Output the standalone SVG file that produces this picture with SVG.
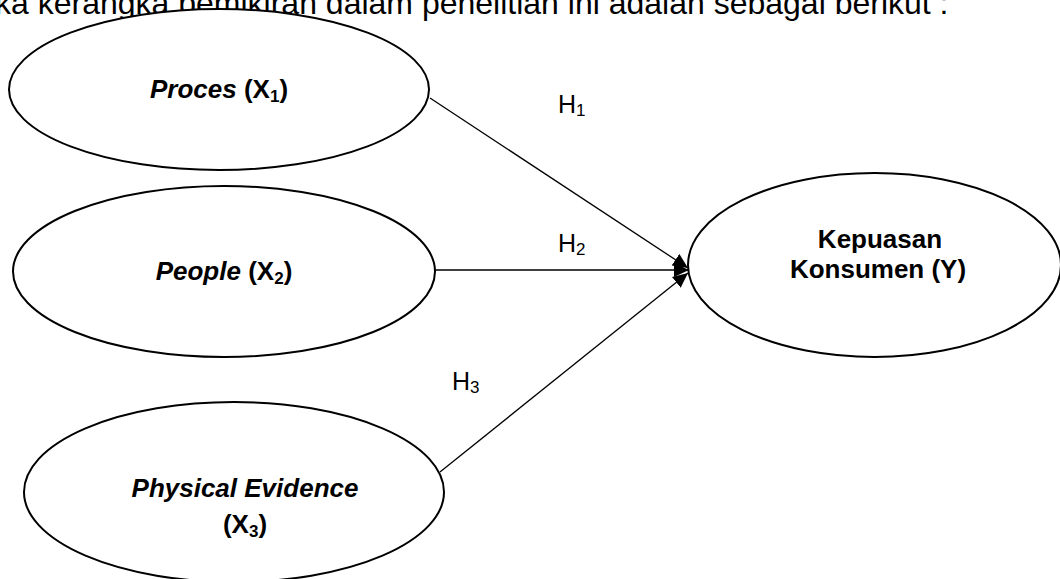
<svg xmlns="http://www.w3.org/2000/svg" width="1060" height="579" viewBox="0 0 1060 579">
<style>
.node ellipse{fill:#fff;stroke:#000;stroke-width:2}
.lbl{font-family:"Liberation Sans",Arial,sans-serif;font-size:26px;font-weight:bold;fill:#000;text-anchor:middle}
.it{font-style:italic}
.sub{font-size:17px}
.h{font-family:"Liberation Sans",Arial,sans-serif;font-size:25px;fill:#000}
.hs{font-size:17px}
.top{font-family:"Liberation Sans",Arial,sans-serif;font-size:32px;fill:#000}
#connectors line{stroke:#000;stroke-width:1.3;marker-end:url(#arr)}
</style>
<defs>
<marker id="arr" markerUnits="userSpaceOnUse" markerWidth="16" markerHeight="16" refX="15" refY="7" orient="auto">
<path d="M0,0 L15,7 L0,14 z" fill="#000"/>
</marker>
</defs>
<rect width="1060" height="579" fill="#fff"/>
<text class="top" x="-5" y="14">ka kerangka pemikiran dalam penelitian ini adalah sebagai berikut :</text>
<g id="connectors">
<line x1="430" y1="98" x2="688" y2="268"/>
<line x1="435" y1="270" x2="689" y2="270"/>
<line x1="440" y1="472" x2="688" y2="273"/>
</g>
<g id="proces" class="node">
<ellipse cx="219" cy="89.5" rx="210" ry="80.5"/>
<text class="lbl" x="219" y="98"><tspan class="it">Proces</tspan> (X<tspan class="sub" dy="4">1</tspan><tspan dy="-4">)</tspan></text>
</g>
<g id="people" class="node">
<ellipse cx="224" cy="271.5" rx="211" ry="85.5"/>
<text class="lbl" x="224" y="280"><tspan class="it">People</tspan> (X<tspan class="sub" dy="4">2</tspan><tspan dy="-4">)</tspan></text>
</g>
<g id="physical" class="node">
<ellipse cx="234" cy="492" rx="210" ry="90"/>
<text class="lbl it" x="245" y="497">Physical Evidence</text>
<text class="lbl" x="245" y="533">(X<tspan class="sub" dy="4">3</tspan><tspan dy="-4">)</tspan></text>
</g>
<g id="kepuasan" class="node">
<ellipse cx="874.5" cy="265" rx="186.5" ry="92"/>
<text class="lbl" x="880" y="248">Kepuasan</text>
<text class="lbl" x="878" y="278">Konsumen (Y)</text>
</g>
<g id="labels">
<text class="h" x="558" y="113">H<tspan class="hs" dy="3">1</tspan></text>
<text class="h" x="558" y="252">H<tspan class="hs" dy="3">2</tspan></text>
<text class="h" x="452" y="390">H<tspan class="hs" dy="3">3</tspan></text>
</g>
</svg>
